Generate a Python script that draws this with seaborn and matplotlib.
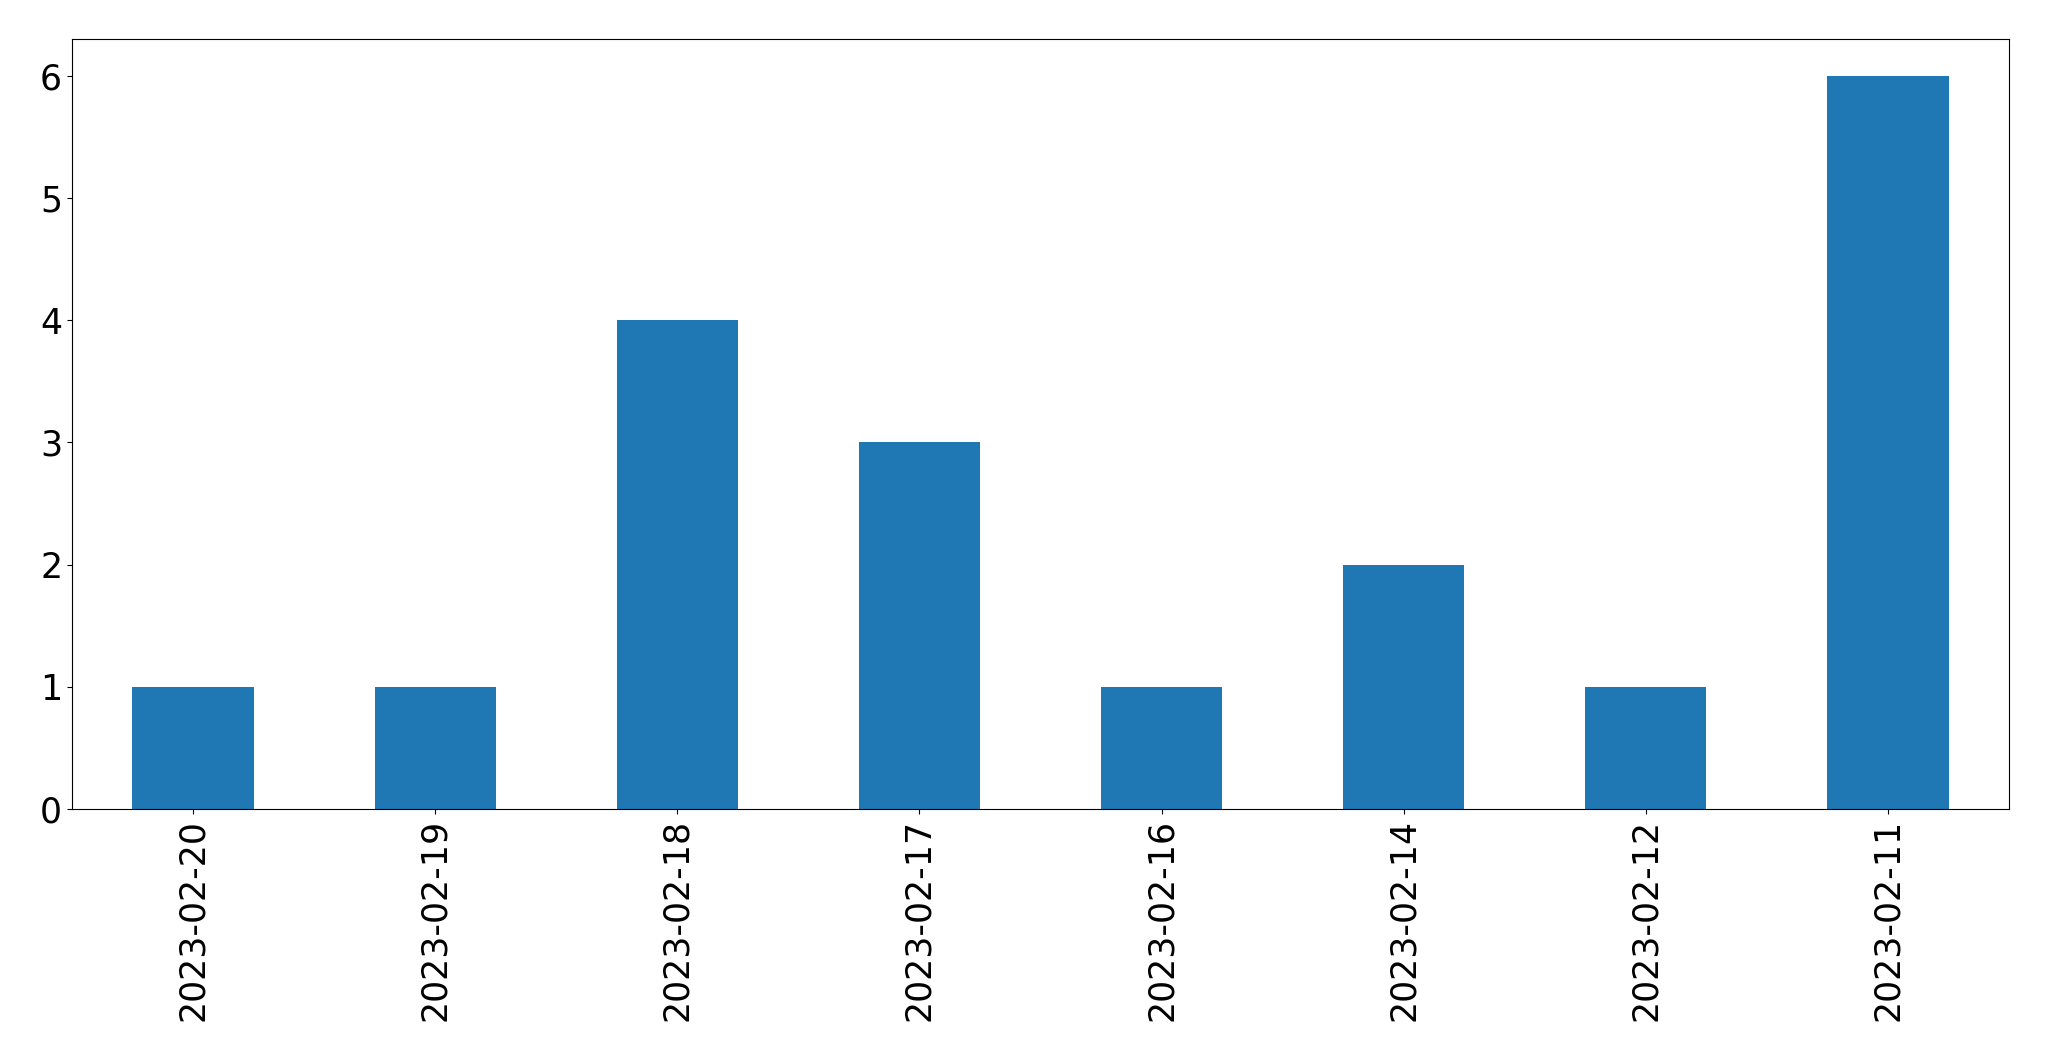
import matplotlib
matplotlib.use("Agg")
import matplotlib.pyplot as plt
import seaborn as sns
import pandas as pd

dates = ["2023-02-20", "2023-02-19", "2023-02-18", "2023-02-17",
         "2023-02-16", "2023-02-14", "2023-02-12", "2023-02-11"]
counts = [1, 1, 4, 3, 1, 2, 1, 6]

df = pd.DataFrame({"date": dates, "count": counts})

fig, ax = plt.subplots(figsize=(20.49, 10.61), dpi=100)
sns.barplot(data=df, x="date", y="count", order=dates, color="#1f77b4",
            saturation=1, width=0.5, ax=ax, errorbar=None)
ax.set_xlim(-0.5, len(dates) - 0.5)
ax.set_ylim(0, 6.3)
ax.set_xlabel("")
ax.set_ylabel("")
ax.tick_params(axis="both", labelsize=25)
plt.setp(ax.get_xticklabels(), rotation=90)
fig.subplots_adjust(left=0.0351, right=0.9805, top=0.9632, bottom=0.2375)
fig.savefig("out.png", dpi=100)
